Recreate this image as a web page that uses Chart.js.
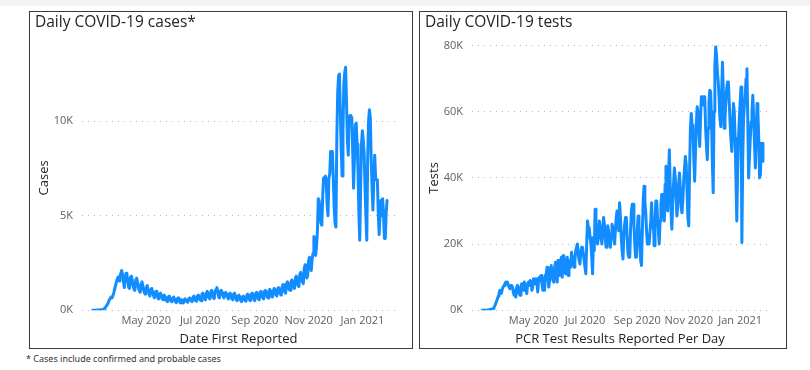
<html>
<head>
    <title>Daily COVID-19 cases and tests</title>
    <script src="https://cdn.jsdelivr.net/npm/chart.js@4.4.0/dist/chart.umd.min.js"></script>
    <style>
        body { margin: 0; background: white; width: 810px; height: 370px; position: relative; overflow: hidden; font-family: 'Open Sans', sans-serif; }
        #topband { position: absolute; left: 0; top: 0; width: 810px; height: 6px; background: #f3f3f3; }
        .box { position: absolute; top: 11px; height: 336px; border: 1px solid #3a3a3a; background: white; }
        #boxCases { left: 29px; width: 382px; }
        #boxTests { left: 419px; width: 366px; }
        #note { position: absolute; left: 26px; top: 352px; font-size: 9px; color: #333; font-family: 'Noto Sans', sans-serif; }
    </style>
</head>
<body>
    <div id="topband"></div>
    <div class="box" id="boxCases"><canvas id="casesChart" width="382" height="336"></canvas></div>
    <div class="box" id="boxTests"><canvas id="testsChart" width="366" height="336"></canvas></div>
    <div id="note">* Cases include confirmed and probable cases</div>
    <script>
        // one value per day, starting 1 Mar 2020
        var dailyCases = [
            0,0,0,0,0,5,5,10,10,20,20,30,
            50,80,120,180,250,330,420,
            550,620,700,650,760,900,1100,
            1300,1500,1650,1750,1550,1800,1950,
            2100,1900,1500,1200,1700,1950,1850,
            1500,1200,1150,1750,1800,1600,1300,
            1100,1050,1600,1700,1450,1200,1050,
            950,1400,1500,1300,1050,900,850,
            1200,1300,1100,850,750,1050,1150,
            1000,800,650,950,1000,850,650,
            600,850,900,750,600,550,800,
            750,650,500,450,700,750,600,
            480,450,650,700,550,450,400,
            600,650,550,420,380,550,400,
            380,550,600,500,450,420,600,
            650,600,500,450,700,750,650,
            500,480,750,800,700,550,500,
            850,900,800,600,550,900,1000,
            850,650,600,950,1050,900,650,
            620,1000,1100,1200,1000,700,650,
            1000,1050,950,750,650,900,950,
            850,700,600,850,900,800,600,
            550,850,900,750,550,500,750,
            800,700,500,450,700,750,650,
            500,480,800,850,750,550,500,
            850,900,800,550,500,900,950,
            850,600,550,950,1000,900,650,
            600,1000,1050,950,700,650,1000,
            1100,1000,750,700,1050,1150,1050,
            800,750,1150,1200,1100,850,800,
            1250,1350,1200,950,900,1400,1500,
            1350,1100,1050,1500,1600,1450,1200,
            1150,1700,1800,1600,1300,1250,1900,
            2000,1800,1500,1400,2200,2400,2100,
            1700,1850,2600,2800,2500,2100,2700,
            3000,3900,3700,2900,3400,
            4200,5900,5800,5200,4600,4500,6000,7000,7000,7100,
            6800,5600,5000,7000,7200,8400,8000,8400,7000,5500,
            4600,4400,9000,11500,12400,12500,10500,8500,7100,9500,
            12000,12600,12850,11000,9000,8200,10200,10300,10100,10200,
            8500,6450,8000,9800,9900,8800,7500,5200,3700,6500,
            8800,9500,9000,8300,6500,5000,3700,8000,10000,10600,
            10200,8000,6500,5300,7000,8200,7000,6900,6900,5200,
            4000,5000,5800,5700,5900,5000,3800,3800,5200,5800
        ];

        var dailyTests = [
            0,0,0,0,0,0,0,100,100,200,200,300,400,500,
            800,1300,1900,2600,3300,4200,5000,
            6000,5000,5200,6500,7000,7500,8000,
            8500,8000,8500,7500,7000,6500,7500,
            7500,7000,5500,4500,6000,4000,7000,
            7500,6500,5000,4500,7000,8000,7500,
            6000,8500,7500,6000,5000,8000,8500,
            7500,9000,8500,6000,7000,9500,9000,
            8000,9500,8000,5500,9000,10000,9000,
            10500,8000,6000,9500,6000,10500,11000,
            13000,10000,7000,9000,12000,13500,11000,
            9000,8500,13000,14500,12500,8500,15000,
            13000,10500,14500,16000,10000,16500,14000,
            12000,11000,15000,16000,10500,14000,15000,
            13000,17500,16000,14000,13000,15000,18000,
            19000,20000,17000,15000,14000,17500,19000,
            19000,17000,15000,13000,11000,20000,27000,
            24500,25000,22000,20000,16000,11000,22000,
            18000,30500,26000,21000,20000,23000,27000,
            25000,22000,20000,24000,28000,26000,22000,
            19000,22000,25500,24000,21000,19000,23000,
            26000,25000,22000,20000,24000,28000,30000,
            27000,24000,32500,28000,22000,18000,15500,
            22000,26000,28000,28000,22000,17000,16000,
            16000,24000,30000,32000,32000,26000,20000,
            16000,16000,24000,28500,26000,20000,15000,
            13500,24000,33000,37500,33000,29500,24000,
            20000,22000,20000,20000,27000,32500,25000,
            27000,19500,26000,33000,33000,28000,24000,
            20000,27000,32000,35000,35000,30000,27000,
            38000,43500,35000,30000,40000,48500,38000,
            30000,24500,33000,38000,43000,40000,34000,
            28500,32000,38000,41500,37000,31000,29500,
            33000,39000,43000,46500,44000,36000,28000,
            25500,42000,55000,59500,56000,55500,46000,
            39000,48000,56000,61500,60000,55000,49500,
            58000,64500,63000,64500,62000,64500,55000,
            50000,45500,55000,63000,66500,66000,58000,
            45000,35500,60000,74000,79700,77000,72000,
            69000,64000,58000,55500,65000,75000,66500,
            55000,58000,63000,67000,69000,69000,63000,
            57000,52000,48000,55000,62500,60000,52000,
            40000,27000,42000,52000,58000,63000,67500,
            20500,45000,58000,62000,65000,70000,73000,
            58000,40000,46000,52000,57000,60000,65000,
            58000,50000,43000,52000,62500,60000,52000,
            40000,41000,50500,45000,50500
        ];

        // month starts, counted in days from 1 Mar 2020
        var monthTickDays = [61, 122, 184, 245, 306];
        var monthTickLabels = ['May 2020', 'Jul 2020', 'Sep 2020', 'Nov 2020', 'Jan 2021'];

        var casesTicks = [0, 5000, 10000];
        var testsTicks = [0, 20000, 40000, 60000, 80000];

        var lineBlue = '#118DFF';
        var tickGrey = '#605E5C';
        var textDark = '#252423';
        var fontName = "'Open Sans', sans-serif";

        function toPoints(values) {
            var pts = [];
            for (var i = 0; i < values.length; i++) {
                pts.push({ x: i, y: values[i] });
            }
            return pts;
        }

        function makeChart(canvasId, title, values, yTitle, xTitle, yMax, yTicks, xMin, xMax, padRight) {
            var ctx = document.getElementById(canvasId).getContext('2d');
            return new Chart(ctx, {
                type: 'line',
                data: {
                    datasets: [{
                        data: toPoints(values),
                        borderColor: lineBlue,
                        borderWidth: 3,
                        borderJoinStyle: 'round',
                        borderCapStyle: 'round',
                        pointRadius: 0,
                        tension: 0,
                        fill: false
                    }]
                },
                options: {
                    responsive: false,
                    animation: false,
                    layout: { padding: { left: 5, right: padRight, top: 0, bottom: 0 } },
                    plugins: {
                        legend: { display: false },
                        tooltip: { enabled: false },
                        title: {
                            display: true,
                            text: title,
                            align: 'start',
                            color: textDark,
                            font: { family: fontName, size: 15.5, weight: 'normal' },
                            padding: { top: 1, bottom: 14 }
                        }
                    },
                    scales: {
                        x: {
                            type: 'linear',
                            min: xMin,
                            max: xMax,
                            grid: { display: false, drawTicks: false },
                            border: { display: false },
                            afterBuildTicks: function (axis) {
                                axis.ticks = monthTickDays.map(function (d) { return { value: d }; });
                            },
                            ticks: {
                                autoSkip: false,
                                maxRotation: 0,
                                padding: 4,
                                color: tickGrey,
                                font: { family: fontName, size: 11 },
                                callback: function (value) {
                                    var k = monthTickDays.indexOf(value);
                                    return k >= 0 ? monthTickLabels[k] : '';
                                }
                            },
                            title: {
                                display: true,
                                text: xTitle,
                                color: textDark,
                                font: { family: fontName, size: 13 },
                                padding: { top: 0, bottom: 1 }
                            }
                        },
                        y: {
                            min: 0,
                            max: yMax,
                            border: { display: false, dash: [1, 5] },
                            grid: {
                                color: '#bdbbb9',
                                lineWidth: 1,
                                drawTicks: false
                            },
                            afterBuildTicks: function (axis) {
                                axis.ticks = yTicks.map(function (v) { return { value: v }; });
                            },
                            afterFit: function (axis) {
                                axis.width = 47;
                            },
                            ticks: {
                                padding: 9,
                                color: tickGrey,
                                font: { family: fontName, size: 11 },
                                callback: function (value) { return (value / 1000) + 'K'; }
                            },
                            title: {
                                display: true,
                                text: yTitle,
                                color: textDark,
                                font: { family: fontName, size: 13 },
                                padding: { top: 1, bottom: 1 }
                            }
                        }
                    }
                }
            });
        }

        var casesChart = makeChart('casesChart', 'Daily COVID-19 cases*', dailyCases, 'Cases', 'Date First Reported', 14000, casesTicks, -12, 343, 17);
        var testsChart = makeChart('testsChart', 'Daily COVID-19 tests', dailyTests, 'Tests', 'PCR Test Results Reported Per Day', 80000, testsTicks, -12, 339, 18);
    </script>
</body>
</html>
